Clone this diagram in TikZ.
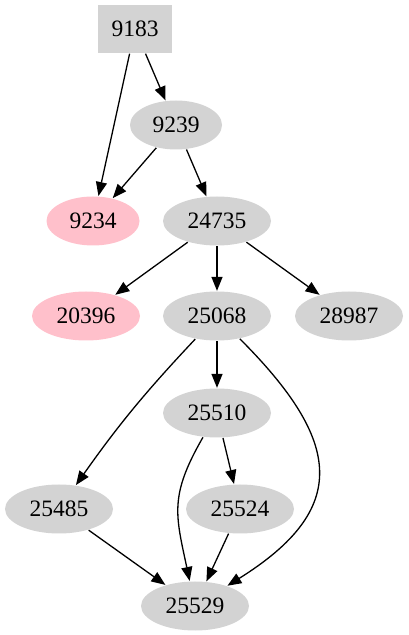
\documentclass[tikz,border=0pt]{standalone}
\usepackage{fontspec}
\setmainfont{Liberation Serif}
\usetikzlibrary{arrows.meta,shapes.geometric}
\definecolor{gvgray}{HTML}{D3D3D3}
\definecolor{gvpink}{HTML}{FFC0CB}
\tikzstyle{bnode}=[rectangle,fill=gvgray,minimum width=74pt,minimum height=48pt,inner sep=0pt,font=\fontsize{23.5}{28}\selectfont]
\tikzstyle{gnode}=[ellipse,fill=gvgray,minimum width=108pt,minimum height=49pt,inner sep=0pt,font=\fontsize{23.5}{28}\selectfont]
\tikzstyle{pnode}=[gnode,fill=gvpink]
\tikzstyle{dedge}=[-{Triangle[length=14pt,width=11pt]}, line width=1.3pt]

\begin{document}
\begin{tikzpicture}[x=10pt,y=10pt,dedge]
\useasboundingbox (0,0) rectangle (40.9,63.5);
\node[bnode] (N9183) at (13.5,60.6) {9183};
\node[gnode,minimum width=92pt] (N9239) at (17.6,51.0) {9239};
\node[pnode,minimum width=93pt] (N9234) at (9.3,41.4) {9234};
\node[gnode] (N24735) at (21.7,41.4) {24735};
\node[pnode] (N20396) at (8.6,31.9) {20396};
\node[gnode] (N25068) at (21.7,31.9) {25068};
\node[gnode] (N28987) at (34.9,31.9) {28987};
\node[gnode] (N25510) at (21.7,22.2) {25510};
\node[gnode] (N25485) at (5.9,12.6) {25485};
\node[gnode] (N25524) at (24.0,12.6) {25524};
\node[gnode] (N25529) at (19.5,2.9) {25529};
\draw(N9183)--(N9234);\draw(N9183)--(N9239);
\draw(N9239)--(N9234);\draw(N9239)--(N24735);
\draw(N24735)--(N20396);\draw(N24735)--(N25068);\draw(N24735)--(N28987);
\draw(N25068)to [bend right=4](N25485);\draw(N25068)--(N25510);
\draw(N25068)to [out=-45,in=32,looseness=1.5](N25529);
\draw(N25510)--(N25524);\draw(N25510)to [out=-120,in=102,looseness=1.2](N25529);
\draw(N25485)--(N25529);\draw(N25524)--(N25529);
\end{tikzpicture}
\end{document}
